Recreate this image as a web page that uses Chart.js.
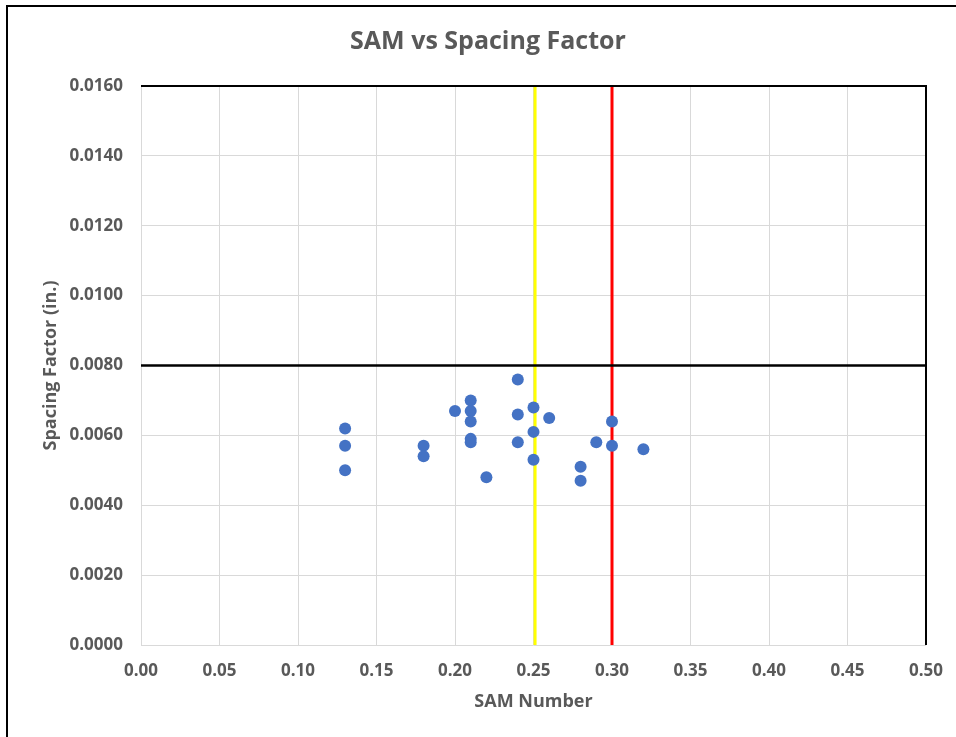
<!DOCTYPE html>
<html>
<head>
<meta charset="utf-8">
<script src="https://cdn.jsdelivr.net/npm/chart.js@4"></script>
<style>
  html, body { margin: 0; padding: 0; background: #fff; }
  #wrap { position: relative; width: 956px; height: 737px; overflow: hidden; }
  #frame { position: absolute; left: 6px; top: 5px; width: 960px; height: 740px;
           border-left: 2px solid #000; border-top: 2px solid #000; }
  canvas { position: absolute; left: 0; top: 0; }
</style>
</head>
<body>
<div id="wrap">
  <div id="frame"></div>
  <canvas id="chart" width="956" height="737"></canvas>
</div>
<script>
// SAM number vs spacing factor readings
const samNumbers = [0.13, 0.13, 0.13, 0.18, 0.18, 0.20, 0.21, 0.21, 0.21, 0.21, 0.21, 0.22,
                    0.24, 0.24, 0.24, 0.25, 0.25, 0.25, 0.26, 0.28, 0.28, 0.29, 0.30, 0.30, 0.32];
const spacingFactors = [0.0062, 0.0057, 0.0050, 0.0057, 0.0054, 0.0067, 0.0070, 0.0067, 0.0064, 0.0059, 0.0058, 0.0048,
                        0.0076, 0.0066, 0.0058, 0.0068, 0.0061, 0.0053, 0.0065, 0.0051, 0.0047, 0.0058, 0.0064, 0.0057, 0.0056];

// limit lines
const samYellowLimit = 0.251;
const samRedLimit = 0.30;
const spacingLimit = 0.0080;

// axis ranges
const xRange = [0, 0.5];
const yRange = [0, 0.016];
const xStep = 0.05;
const yStep = 0.002;

const chartTitle = 'SAM vs Spacing Factor';

const points = samNumbers.map((x, i) => ({ x: x, y: spacingFactors[i] }));

const fontFamily = "'Open Sans', 'Liberation Sans', sans-serif";
const textGray = '#595959';

// title (centred on the full Excel chart, not the canvas) and black top/right plot edges
const chartDecor = {
    id: 'chartDecor',
    afterDatasetsDraw(chart) {
        const { ctx, chartArea: a } = chart;
        ctx.save();
        ctx.strokeStyle = '#000';
        ctx.lineWidth = 2;
        ctx.beginPath();
        ctx.moveTo(a.left, a.top);
        ctx.lineTo(a.right, a.top);
        ctx.lineTo(a.right, a.bottom);
        ctx.stroke();
        ctx.restore();
    },
    afterDraw(chart) {
        const ctx = chart.ctx;
        ctx.save();
        ctx.fillStyle = textGray;
        ctx.font = 'bold 25px ' + fontFamily;
        ctx.textAlign = 'center';
        ctx.textBaseline = 'middle';
        ctx.fillText(chartTitle, 488, 42);
        ctx.restore();
    }
};

const limitLine = (data, color, width) => ({
    type: 'line',
    data: data,
    borderColor: color,
    borderWidth: width,
    pointRadius: 0,
    fill: false,
    order: 2
});

new Chart(document.getElementById('chart'), {
    type: 'scatter',
    data: {
        datasets: [
            {
                label: 'Spacing Factor',
                data: points,
                backgroundColor: '#4472C4',
                borderColor: '#4472C4',
                borderWidth: 0,
                pointRadius: 6,
                order: 1
            },
            limitLine([{ x: xRange[0], y: spacingLimit }, { x: xRange[1], y: spacingLimit }], '#000000', 2.5),
            limitLine([{ x: samYellowLimit, y: yRange[0] }, { x: samYellowLimit, y: yRange[1] }], '#FFFF00', 3),
            limitLine([{ x: samRedLimit, y: yRange[0] }, { x: samRedLimit, y: yRange[1] }], '#FF0000', 3)
        ]
    },
    options: {
        responsive: false,
        animation: false,
        layout: { padding: { left: 0, right: 0, top: 86, bottom: 0 } },
        plugins: {
            legend: { display: false },
            tooltip: { enabled: false },
            title: { display: false }
        },
        scales: {
            x: {
                type: 'linear',
                min: xRange[0],
                max: xRange[1],
                afterFit(scale) { scale.height = 92; scale.paddingRight = 30; scale.paddingLeft = 0; },
                ticks: {
                    stepSize: xStep,
                    padding: 16,
                    color: textGray,
                    font: { family: fontFamily, size: 17, weight: 'bold' },
                    callback: v => v.toFixed(2)
                },
                grid: { color: '#d9d9d9', lineWidth: 1, drawTicks: false },
                border: { display: false },
                title: {
                    display: true,
                    text: 'SAM Number',
                    color: textGray,
                    font: { family: fontFamily, size: 18, weight: 'bold' },
                    padding: { top: 0, bottom: 24 }
                }
            },
            y: {
                type: 'linear',
                min: yRange[0],
                max: yRange[1],
                afterFit(scale) { scale.width = 141; scale.paddingTop = 0; scale.paddingBottom = 0; },
                ticks: {
                    stepSize: yStep,
                    padding: 18,
                    color: textGray,
                    font: { family: fontFamily, size: 17, weight: 'bold' },
                    callback: v => v.toFixed(4)
                },
                grid: { color: '#d9d9d9', lineWidth: 1, drawTicks: false },
                border: { display: false },
                title: {
                    display: true,
                    text: 'Spacing Factor (in.)',
                    color: textGray,
                    font: { family: fontFamily, size: 18, weight: 'bold' },
                    padding: { top: 40, bottom: 0 }
                }
            }
        }
    },
    plugins: [chartDecor]
});
</script>
</body>
</html>
